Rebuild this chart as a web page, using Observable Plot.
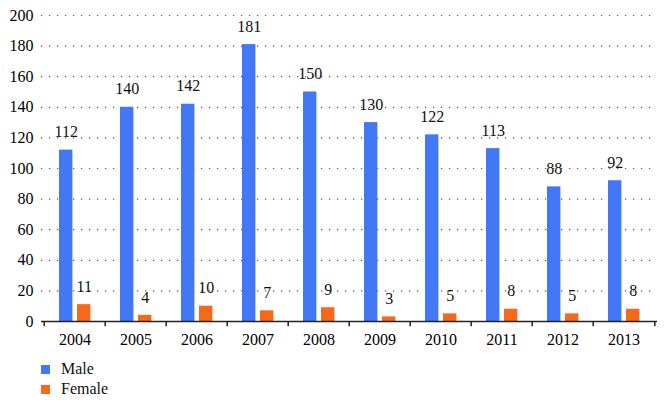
<!DOCTYPE html>
<html><head><meta charset="utf-8">
<script src="https://cdn.jsdelivr.net/npm/d3@7"></script>
<script src="https://cdn.jsdelivr.net/npm/@observablehq/plot@0.6"></script>
</head>
<body style="margin:0;background:#fff">
<div id="chart"></div>
<div id="legend"></div>
<script>
const years = ["2004","2005","2006","2007","2008","2009","2010","2011","2012","2013"];
const male = [112,140,142,181,150,130,122,113,88,92];
const female = [11,4,10,7,9,3,5,8,5,8];
const yTicks = [0,20,40,60,80,100,120,140,160,180,200];
const series = ["Male","Female"];
const colors = ["#4277f6","#f8681a"];

const data = [];
years.forEach((y,i) => {
  data.push({year: y, sex: "Male", value: male[i]});
  data.push({year: y, sex: "Female", value: female[i]});
});

const W = 669, H = 350, ML = 41, MR = 12, MT = 15, MB = 29;
const step = (W - ML - MR) / years.length;

const maleData = data.filter(d => d.sex === "Male");
const femaleData = data.filter(d => d.sex === "Female");

const svg = Plot.plot({
  width: W, height: H,
  marginLeft: ML, marginRight: MR, marginTop: MT, marginBottom: MB,
  style: {fontFamily: "Liberation Serif", fontSize: "16px"},
  x: {domain: years, padding: 0, label: null},
  y: {domain: [0, 200], label: null},
  marks: [
    Plot.gridY(yTicks, {stroke: "#555", strokeOpacity: 1, strokeDasharray: "1.2,6.8", strokeWidth: 1.2}),
    Plot.axisY(yTicks, {tickSize: 0, tickPadding: 8, label: null, fontSize: 16, fontFamily: "Liberation Serif"}),
    Plot.axisX({tickSize: 0, tickPadding: 12, label: null, fontSize: 16, fontFamily: "Liberation Serif"}),
    Plot.barY(maleData, {x: "year", y: "value", fill: colors[0], insetLeft: 15, insetRight: step - 29}),
    Plot.barY(femaleData, {x: "year", y: "value", fill: colors[1], insetLeft: 33, insetRight: step - 47}),
    Plot.text(maleData, {x: "year", y: "value", text: d => String(d.value), dx: 22 - step / 2, dy: -18, fontSize: 16, fontFamily: "Liberation Serif", fill: "#111"}),
    Plot.text(femaleData, {x: "year", y: "value", text: d => String(d.value), dx: 40 - step / 2, dy: -18, fontSize: 16, fontFamily: "Liberation Serif", fill: "#111"}),
    Plot.ruleY([0], {stroke: "#222", strokeWidth: 1.5}),
    Plot.ruleX(years, {x: d => d, dx: -step / 2, y1: 0, y2: -3.4, stroke: "#222", strokeWidth: 1.5}),
    Plot.ruleX([years[years.length - 1]], {x: d => d, dx: step / 2, y1: 0, y2: -3.4, stroke: "#222", strokeWidth: 1.5})
  ]
});
document.getElementById("chart").appendChild(svg);

const legend = document.getElementById("legend");
legend.style.paddingLeft = "41px";
legend.style.marginTop = "9px";
series.forEach((s, i) => {
  const row = document.createElement("div");
  row.style.display = "flex";
  row.style.alignItems = "center";
  row.style.height = "20px";
  const sw = document.createElement("div");
  sw.style.width = "9px";
  sw.style.height = "9px";
  sw.style.marginRight = "11px";
  sw.style.background = colors[i];
  const t = document.createElement("div");
  t.style.fontFamily = "'Liberation Serif'";
  t.style.fontSize = "16px";
  t.style.color = "#111";
  t.textContent = s;
  row.appendChild(sw);
  row.appendChild(t);
  legend.appendChild(row);
});
</script>
</body></html>
